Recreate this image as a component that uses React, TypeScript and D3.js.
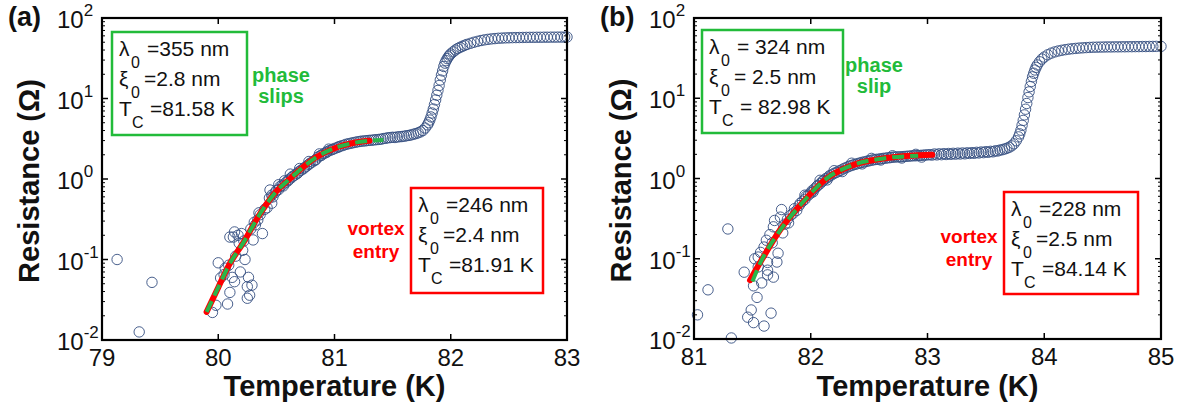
import React from 'react';
import * as d3 from 'd3';

const W = 1183;
const H = 405;

const yTickExps = [-2, -1, 0, 1, 2];
const xTicksA = [79, 80, 81, 82, 83];
const xTicksB = [81, 82, 83, 84, 85];

// Panel (a) measured points [T (K), R (Ohm)]
const pointsA: [number, number][] = [
  [79.13, 0.1], [79.43, 0.052], [79.32, 0.0126],
  [79.95, 0.022], [79.98, 0.027], [80.0, 0.091], [80.02, 0.059], [80.05, 0.065], [80.06, 0.078],
  [80.08, 0.028], [80.09, 0.085], [80.1, 0.039], [80.1, 0.19], [80.12, 0.06], [80.13, 0.19],
  [80.14, 0.053], [80.14, 0.22], [80.15, 0.11], [80.17, 0.2], [80.18, 0.16], [80.19, 0.07],
  [80.2, 0.21], [80.21, 0.13], [80.22, 0.17], [80.23, 0.1], [80.25, 0.046], [80.25, 0.033],
  [80.26, 0.06], [80.27, 0.036], [80.28, 0.24], [80.29, 0.048], [80.3, 0.175], [80.31, 0.29],
  [80.32, 0.27], [80.34, 0.31], [80.35, 0.38], [80.36, 0.36], [80.38, 0.21], [80.4, 0.42],
  [80.42, 0.44], [80.445, 0.73], [80.46, 0.5],
  [80.44, 0.58], [80.46, 0.63], [80.47, 0.6], [80.49, 0.68], [80.5, 0.72], [80.52, 0.74],
  [80.52, 0.85], [80.53, 0.8], [80.55, 0.84], [80.56, 0.82], [80.57, 0.95], [80.58, 0.9],
  [80.6, 0.95], [80.61, 0.99], [80.62, 1.15], [80.63, 1.04], [80.64, 1.08], [80.66, 1.12],
  [80.68, 1.17], [80.69, 1.22], [80.7, 1.35], [80.71, 1.28], [80.73, 1.33], [80.74, 1.38],
  [80.76, 1.44], [80.78, 1.52], [80.78, 1.65], [80.79, 1.57], [80.81, 1.63], [80.83, 1.7],
  [80.84, 1.74], [80.86, 1.88], [80.87, 2.05], [80.88, 1.95], [80.89, 1.98], [80.91, 2.08],
  [80.93, 2.13], [80.94, 2.2], [80.95, 2.35], [80.96, 2.26], [80.98, 2.32], [80.99, 2.36],
  [81.01, 2.42], [81.03, 2.48], [81.04, 2.52], [81.06, 2.58], [81.08, 2.63], [81.1, 2.7],
  [81.12, 2.74], [81.14, 2.78], [81.16, 2.82], [81.18, 2.86], [81.2, 2.9], [81.22, 2.93],
  [81.24, 2.96], [81.26, 2.97], [81.28, 3.0], [81.3, 3.02], [81.32, 3.03], [81.34, 3.06],
  [81.36, 3.08], [81.38, 3.1], [81.4, 3.12],
  [81.42, 3.18], [81.44, 3.2], [81.46, 3.25], [81.48, 3.27], [81.5, 3.3], [81.52, 3.28],
  [81.54, 3.33], [81.56, 3.35], [81.58, 3.37], [81.6, 3.4], [81.62, 3.45], [81.64, 3.48],
  [81.66, 3.53], [81.68, 3.6], [81.7, 3.66], [81.72, 3.75], [81.74, 3.85],
  [81.76, 4.0], [81.78, 4.3], [81.8, 4.7], [81.81, 5.0], [81.82, 5.4], [81.83, 5.9],
  [81.84, 6.6], [81.85, 7.4], [81.86, 8.4], [81.87, 9.6], [81.88, 11.0], [81.89, 12.6],
  [81.9, 14.5], [81.91, 17.0], [81.92, 19.5], [81.93, 22.0], [81.94, 25.0], [81.95, 27.5],
  [81.96, 29.5], [81.97, 31.3], [81.98, 33.0], [81.99, 34.5], [82.0, 35.8], [82.02, 38.0],
  [82.04, 40.0], [82.06, 41.8], [82.08, 43.2], [82.1, 44.5], [82.12, 45.8], [82.14, 47.0],
  [82.17, 48.5], [82.2, 50.0], [82.23, 51.3], [82.26, 52.5], [82.29, 53.5], [82.32, 54.3],
  [82.35, 55.0], [82.38, 55.5], [82.41, 56.0], [82.44, 56.3], [82.47, 56.6], [82.5, 56.8],
  [82.53, 57.0], [82.56, 57.1], [82.59, 57.2], [82.62, 57.3], [82.65, 57.4], [82.68, 57.5],
  [82.71, 57.5], [82.74, 57.6], [82.77, 57.6], [82.8, 57.7], [82.83, 57.7], [82.86, 57.8],
  [82.89, 57.8], [82.92, 57.9], [82.95, 57.9], [82.98, 58.0], [83.0, 58.0],
];

const fitRedA: [number, number][] = [
  [79.9, 0.0223], [80.0, 0.045], [80.084, 0.081], [80.23, 0.175], [80.342, 0.337],
  [80.488, 0.67], [80.634, 1.06], [80.832, 1.82], [81.03, 2.5], [81.15, 2.78], [81.3, 2.98],
];
const fitGreenA: [number, number][] = [
  [79.9, 0.0223], [80.0, 0.045], [80.084, 0.081], [80.23, 0.175], [80.342, 0.337],
  [80.488, 0.67], [80.634, 1.06], [80.832, 1.82], [81.03, 2.5], [81.15, 2.78], [81.3, 2.98],
  [81.42, 3.06],
];

// Panel (b) measured points [T (K), R (Ohm)]
const pointsB: [number, number][] = [
  [81.03, 0.02], [81.12, 0.041], [81.29, 0.235], [81.32, 0.0103], [81.43, 0.068],
  [81.46, 0.0187], [81.49, 0.023], [81.51, 0.016], [81.51, 0.046], [81.52, 0.1],
  [81.54, 0.033], [81.55, 0.105], [81.55, 0.079], [81.57, 0.12], [81.58, 0.05], [81.6, 0.0145],
  [81.6, 0.14], [81.62, 0.17], [81.63, 0.063], [81.63, 0.072], [81.63, 0.09], [81.65, 0.2],
  [81.66, 0.021], [81.67, 0.158], [81.68, 0.059], [81.68, 0.25], [81.69, 0.3], [81.71, 0.091],
  [81.72, 0.117], [81.74, 0.33], [81.75, 0.41], [81.76, 0.21],
  [81.78, 0.27], [81.8, 0.31], [81.81, 0.28], [81.83, 0.35], [81.85, 0.37], [81.86, 0.42],
  [81.88, 0.4], [81.9, 0.46], [81.91, 0.49], [81.93, 0.52], [81.95, 0.55], [81.95, 0.62],
  [81.96, 0.6], [81.98, 0.62], [82.0, 0.66], [82.01, 0.7], [82.02, 0.68], [82.03, 0.74],
  [82.05, 0.79], [82.06, 0.82], [82.08, 0.86], [82.08, 0.95], [82.1, 0.92], [82.11, 0.95],
  [82.13, 1.0], [82.14, 0.96], [82.15, 1.04], [82.16, 1.08], [82.18, 1.11], [82.2, 1.16],
  [82.2, 1.25], [82.22, 1.19], [82.24, 1.24], [82.26, 1.27], [82.27, 1.22], [82.28, 1.32],
  [82.3, 1.36], [82.32, 1.4], [82.34, 1.44], [82.35, 1.55], [82.36, 1.47], [82.38, 1.5],
  [82.4, 1.53], [82.42, 1.56], [82.44, 1.59], [82.44, 1.52], [82.46, 1.61], [82.48, 1.64],
  [82.5, 1.66], [82.52, 1.69], [82.52, 1.78], [82.54, 1.71], [82.56, 1.73], [82.58, 1.74],
  [82.6, 1.76], [82.6, 1.7], [82.62, 1.78], [82.64, 1.79], [82.66, 1.81], [82.68, 1.82],
  [82.7, 1.84], [82.7, 1.92], [82.72, 1.85], [82.74, 1.86], [82.76, 1.86], [82.78, 1.87],
  [82.78, 1.8], [82.8, 1.88], [82.82, 1.89], [82.84, 1.9], [82.86, 1.91], [82.88, 1.92],
  [82.9, 1.92], [82.9, 2.0], [82.92, 1.93], [82.94, 1.94], [82.95, 1.85], [82.96, 1.95],
  [82.98, 1.96], [83.0, 1.97],
  [83.02, 1.98], [83.04, 1.96], [83.06, 2.02], [83.08, 1.97], [83.1, 2.03], [83.12, 1.98],
  [83.14, 2.04], [83.16, 1.99], [83.18, 2.05], [83.2, 2.0], [83.22, 2.06], [83.24, 2.01],
  [83.26, 2.07], [83.28, 2.02], [83.3, 2.08], [83.32, 2.03], [83.34, 2.09], [83.36, 2.05],
  [83.38, 2.1], [83.4, 2.06], [83.42, 2.12], [83.44, 2.08], [83.46, 2.14], [83.48, 2.1],
  [83.5, 2.16], [83.52, 2.12], [83.54, 2.18], [83.56, 2.15], [83.58, 2.21], [83.6, 2.2],
  [83.62, 2.26], [83.64, 2.28], [83.66, 2.33], [83.68, 2.38],
  [83.7, 2.45], [83.72, 2.55], [83.74, 2.7], [83.76, 2.95], [83.78, 3.3], [83.79, 3.6],
  [83.8, 4.0], [83.81, 4.6], [83.82, 5.3], [83.83, 6.2], [83.84, 7.3], [83.85, 8.6],
  [83.86, 10.2], [83.87, 12.0], [83.88, 14.0], [83.89, 16.2], [83.9, 18.5], [83.91, 20.5],
  [83.92, 22.5], [83.93, 24.3], [83.94, 26.0], [83.96, 28.5], [83.98, 30.8], [84.0, 32.6],
  [84.03, 34.8], [84.06, 36.5], [84.09, 37.8], [84.12, 38.8], [84.15, 39.6], [84.18, 40.3],
  [84.21, 40.9], [84.24, 41.4], [84.27, 41.8], [84.3, 42.2], [84.33, 42.5], [84.36, 42.8],
  [84.39, 43.0], [84.42, 43.2], [84.45, 43.3], [84.48, 43.4], [84.51, 43.5], [84.54, 43.6],
  [84.57, 43.6], [84.6, 43.7], [84.63, 43.7], [84.66, 43.8], [84.69, 43.8], [84.72, 43.9],
  [84.75, 43.9], [84.78, 44.0], [84.81, 44.0], [84.84, 44.1], [84.87, 44.1], [84.9, 44.2],
  [84.93, 44.2], [84.96, 44.3], [85.0, 44.3],
];

const fitRedB: [number, number][] = [
  [81.48, 0.054], [81.565, 0.089], [81.737, 0.228], [81.934, 0.51], [82.14, 1.01],
  [82.36, 1.47], [82.65, 1.8], [83.04, 1.97],
];
const fitGreenB: [number, number][] = [
  [81.5, 0.052], [81.565, 0.087], [81.737, 0.225], [81.934, 0.51], [82.14, 1.01],
  [82.36, 1.47], [82.65, 1.8], [82.92, 1.92],
];

const greenValuesA = ['=355 nm', '=2.8 nm', '=81.58 K'];
const redValuesA = ['=246 nm', '=2.4 nm', '=81.91 K'];
const greenValuesB = ['= 324 nm', '= 2.5 nm', '= 82.98 K'];
const redValuesB = ['=228 nm', '=2.5 nm', '=84.14 K'];

const GREEN = '#22bb3a';
const GREEN_LINE = '#2ab64a';
const RED = '#ff0000';
const MARK = '#344e80';
const FONT = '"Liberation Sans", Arial, sans-serif';

type BoxProps = { x0: number; y0: number; w: number; h: number; color: string; values: string[] };

function ParamBox({ x0, y0, w, h, color, values }: BoxProps) {
  const syms = ['λ', 'ξ', 'T'];
  const subs = ['0', '0', 'C'];
  const valDx = [35, 32, 38];
  return (
    <g fontFamily={FONT} fill="#111">
      <rect x={x0} y={y0} width={w} height={h} fill="white" stroke={color} strokeWidth={2.5} />
      {syms.map((s, i) => (
        <g key={i}>
          <text x={x0 + 7} y={y0 + 24 + i * 30} fontSize={21}>{s}</text>
          <text x={x0 + (i === 2 ? 20 : 19)} y={y0 + 36 + i * 30} fontSize={16}>{subs[i]}</text>
          <text x={x0 + valDx[i]} y={y0 + 24 + i * 30} fontSize={21}>{values[i]}</text>
        </g>
      ))}
    </g>
  );
}

type PanelProps = {
  left: number; top: number; width: number; height: number;
  xDomain: [number, number]; xTicks: number[];
  points: [number, number][]; fitRed: [number, number][]; fitGreen: [number, number][];
  tag: string; greenValues: string[]; redValues: string[];
  greenBox: [number, number, number, number]; redBox: [number, number, number, number];
  phaseText: string[]; phasePos: [number, number]; vortexPos: [number, number];
};

function Panel(p: PanelProps) {
  const { left, top, width, height } = p;
  const bottom = top + height;
  const right = left + width;
  const x = d3.scaleLinear().domain(p.xDomain).range([left, right]);
  const y = d3.scaleLog().domain([0.01, 100]).range([bottom, top]);
  const line = d3
    .line<[number, number]>()
    .x((d) => x(d[0]))
    .y((d) => y(d[1]))
    .curve(d3.curveMonotoneX);
  const minors: number[] = [];
  for (let e = -2; e < 2; e++) for (let k = 2; k <= 9; k++) minors.push(k * Math.pow(10, e));
  return (
    <g>
      {p.points.map((d, i) => (
        <circle key={i} cx={x(d[0])} cy={y(d[1])} r={5.2} fill="none" stroke={MARK} strokeWidth={0.9} />
      ))}
      <path d={line(p.fitRed) || ''} fill="none" stroke={RED} strokeWidth={6} strokeLinecap="round" />
      <path d={line(p.fitGreen) || ''} fill="none" stroke={GREEN_LINE} strokeWidth={4} strokeDasharray="12 6" />
      <rect x={left} y={top} width={width} height={height} fill="none" stroke="#000" strokeWidth={2.2} />
      {p.xTicks.map((t) => (
        <g key={t}>
          <line x1={x(t)} x2={x(t)} y1={bottom} y2={bottom - 6} stroke="#000" strokeWidth={1.5} />
          <line x1={x(t)} x2={x(t)} y1={top} y2={top + 6} stroke="#000" strokeWidth={1.5} />
          <text x={x(t)} y={bottom + 26} fontSize={24} textAnchor="middle" fontFamily={FONT} fill="#111">{t}</text>
        </g>
      ))}
      {yTickExps.map((e) => {
        const v = Math.pow(10, e);
        return (
          <g key={e}>
            <line x1={left} x2={left + 6} y1={y(v)} y2={y(v)} stroke="#000" strokeWidth={1.5} />
            <line x1={right} x2={right - 6} y1={y(v)} y2={y(v)} stroke="#000" strokeWidth={1.5} />
            <text x={left - 45} y={y(v) + 10} fontSize={24} fontFamily={FONT} fill="#111">
              10<tspan dy={-12} fontSize={17}>{e < 0 ? '-' + Math.abs(e) : String(e)}</tspan>
            </text>
          </g>
        );
      })}
      {minors.map((v, i) => (
        <g key={'m' + i}>
          <line x1={left} x2={left + 3} y1={y(v)} y2={y(v)} stroke="#000" strokeWidth={1} />
          <line x1={right} x2={right - 3} y1={y(v)} y2={y(v)} stroke="#000" strokeWidth={1} />
        </g>
      ))}
      <text x={(left + right) / 2} y={396} fontSize={29} fontWeight="bold" textAnchor="middle" fontFamily={FONT} fill="#111">
        Temperature (K)
      </text>
      <text
        transform={`translate(${left - 63},${(top + bottom) / 2 + 2}) rotate(-90)`}
        fontSize={29}
        fontWeight="bold"
        textAnchor="middle"
        fontFamily={FONT}
        fill="#111"
      >
        Resistance (Ω)
      </text>
      <text x={left - 94} y={26} fontSize={27} fontWeight="bold" fontFamily={FONT} fill="#111">{p.tag}</text>
      <ParamBox x0={left + p.greenBox[0]} y0={top + p.greenBox[1]} w={p.greenBox[2]} h={p.greenBox[3]} color={GREEN} values={p.greenValues} />
      <ParamBox x0={left + p.redBox[0]} y0={top + p.redBox[1]} w={p.redBox[2]} h={p.redBox[3]} color={RED} values={p.redValues} />
      <g fontFamily={FONT} fontWeight="bold" fontSize={20} fill={GREEN} textAnchor="middle">
        <text x={left + p.phasePos[0]} y={top + p.phasePos[1]}>{p.phaseText[0]}</text>
        <text x={left + p.phasePos[0]} y={top + p.phasePos[1] + 21}>{p.phaseText[1]}</text>
      </g>
      <g fontFamily={FONT} fontWeight="bold" fontSize={19} fill={RED} textAnchor="middle">
        <text x={left + p.vortexPos[0]} y={top + p.vortexPos[1]}>vortex</text>
        <text x={left + p.vortexPos[0]} y={top + p.vortexPos[1] + 23}>entry</text>
      </g>
    </g>
  );
}

export default function App() {
  return (
    <svg width={W} height={H} style={{ position: 'absolute', left: 0, top: 0, background: 'white' }}>
      <rect width={W} height={H} fill="white" />
      <Panel
        left={102} top={18} width={465} height={322}
        xDomain={[79, 83]} xTicks={xTicksA}
        points={pointsA} fitRed={fitRedA} fitGreen={fitGreenA}
        tag="(a)" greenValues={greenValuesA} redValues={redValuesA}
        greenBox={[10, 14, 135, 103]} redBox={[309, 170, 132, 105]}
        phaseText={['phase', 'slips']} phasePos={[179, 64]} vortexPos={[274, 217]}
      />
      <Panel
        left={694} top={18} width={467} height={321}
        xDomain={[81, 85]} xTicks={xTicksB}
        points={pointsB} fitRed={fitRedB} fitGreen={fitGreenB}
        tag="(b)" greenValues={greenValuesB} redValues={redValuesB}
        greenBox={[8, 12, 141, 103]} redBox={[310, 174, 134, 102]}
        phaseText={['phase', 'slip']} phasePos={[180, 54]} vortexPos={[275, 225]}
      />
    </svg>
  );
}
